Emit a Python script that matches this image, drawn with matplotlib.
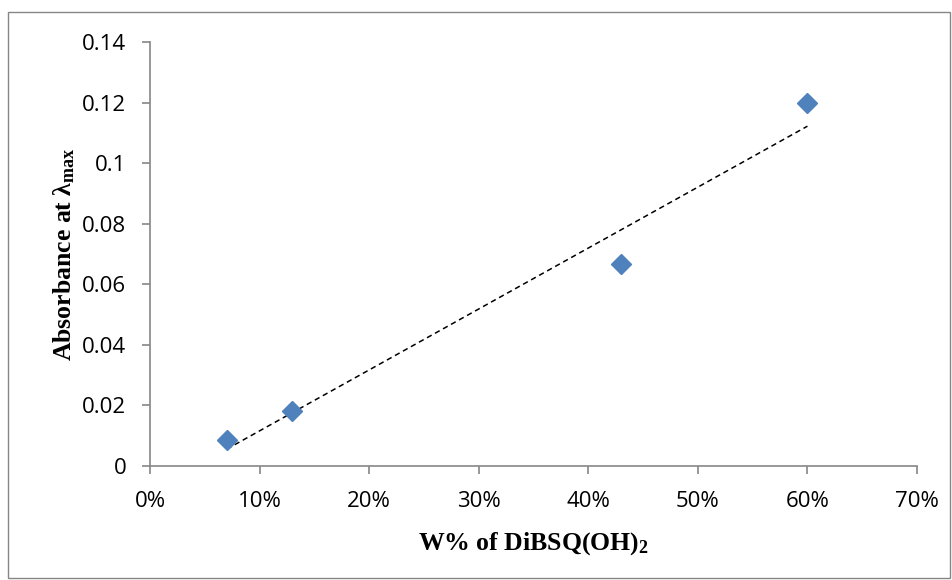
import matplotlib
matplotlib.use('Agg')
import matplotlib.pyplot as plt
from matplotlib.patches import Rectangle
from matplotlib.ticker import FuncFormatter, MultipleLocator
import numpy as np

plt.rcParams['mathtext.fontset'] = 'custom'
plt.rcParams['mathtext.rm'] = 'Liberation Serif'
plt.rcParams['mathtext.bf'] = 'Liberation Serif:bold'
plt.rcParams['mathtext.it'] = 'Liberation Serif:italic'

# data
w_pct = [7, 13, 43, 60]
absorbance = [0.0086, 0.0183, 0.0667, 0.1198]

fig = plt.figure(figsize=(9.53, 5.8), dpi=100)
fig.patch.set_facecolor('white')
fig.patches.append(Rectangle((8 / 953, 2 / 580), 942 / 953, 566 / 580, transform=fig.transFigure,
                             fill=False, edgecolor='#868686', linewidth=1.0))

ax = fig.add_axes([150 / 953, 114 / 580, 767 / 953, 424 / 580])

# linear trendline
slope, icpt = np.polyfit(w_pct, absorbance, 1)
xs = np.array([min(w_pct), max(w_pct)])
ax.plot(xs, slope * xs + icpt, linestyle=(0, (3.5, 2.5)), color='black', linewidth=1.1, zorder=2)

ax.plot(w_pct, absorbance, linestyle='none', marker='D', markersize=10.5,
        color='#4F81BD', markeredgecolor='#4F81BD', zorder=3)

ax.set_xlim(0, 70)
ax.set_ylim(0, 0.14)
ax.xaxis.set_major_locator(MultipleLocator(10))
ax.yaxis.set_major_locator(MultipleLocator(0.02))
ax.xaxis.set_major_formatter(FuncFormatter(lambda v, p: f"{v:.0f}%"))
ax.yaxis.set_major_formatter(FuncFormatter(lambda v, p: "0" if abs(v) < 1e-9 else f"{v:.2f}".rstrip('0')))

for side in ['top', 'right']:
    ax.spines[side].set_visible(False)
for side in ['left', 'bottom']:
    ax.spines[side].set_color('#868686')
    ax.spines[side].set_linewidth(1.2)

ax.tick_params(axis='both', direction='out', length=6, width=1.2, color='#868686', labelsize=16)
ax.tick_params(axis='x', pad=12)
ax.tick_params(axis='y', pad=11)
for lbl in ax.get_xticklabels() + ax.get_yticklabels():
    lbl.set_fontfamily('Open Sans')

ax.set_xlabel(r"W% of DiBSQ(OH)$_\mathbf{2}$", fontfamily='Liberation Serif',
              fontweight='bold', fontsize=18.5, labelpad=13)
ax.set_ylabel("Absorbance at λ$_\\mathbf{max}$", fontfamily='Liberation Serif',
              fontweight='bold', fontsize=18.5, labelpad=4)

fig.savefig("out.png", dpi=100, facecolor='white')
